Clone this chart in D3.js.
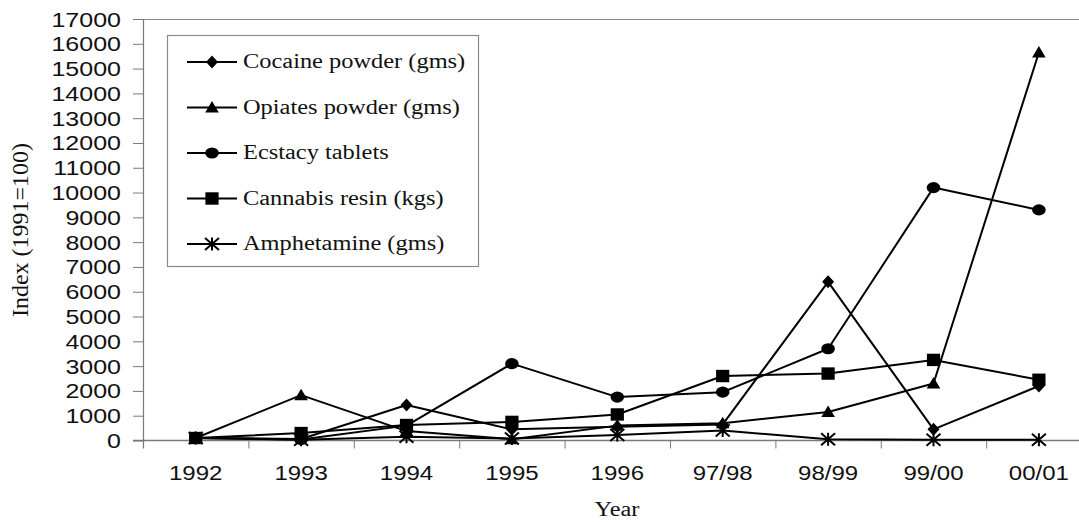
<!DOCTYPE html>
<html>
<head>
<meta charset="utf-8">
<script src="https://cdn.jsdelivr.net/npm/d3@7"></script>
<style>
  html, body { margin: 0; padding: 0; background: #fff; }
  svg { display: block; }
</style>
</head>
<body>
<svg id="chart" width="1079" height="522"></svg>
<script>
// ---- data ----
const categories = ["1992", "1993", "1994", "1995", "1996", "97/98", "98/99", "99/00", "00/01"];
const cocaine     = [100, 60, 1430, 450, 550, 650, 6400, 450, 2200];
const opiates     = [100, 1830, 380, 50, 600, 700, 1150, 2300, 15650];
const ecstasy     = [100, 40, 600, 3100, 1750, 1950, 3700, 10200, 9300];
const cannabis    = [100, 300, 625, 750, 1050, 2600, 2700, 3250, 2450];
const amphetamine = [100, 30, 150, 80, 220, 400, 50, 30, 30];
const seriesNames = ["Cocaine powder (gms)", "Opiates powder (gms)", "Ecstacy tablets", "Cannabis resin (kgs)", "Amphetamine (gms)"];
const seriesMarkers = ["diamond", "triangle", "circle", "square", "star"];
const yTicks = d3.range(0, 17001, 1000);

(function () {
const series = [cocaine, opiates, ecstasy, cannabis, amphetamine].map((vals, i) => ({
  name: seriesNames[i], marker: seriesMarkers[i], values: vals
}));

const svg = d3.select("#chart");
const W = 1079;
const pLeft = 143, pTop = 19, pBottom = 440.5;
const step = 105.4;

const x = d3.scaleBand().domain(categories).range([pLeft, pLeft + step * categories.length]).padding(0);
const y = d3.scaleLinear().domain([0, 17000]).range([pBottom, pTop]);
const cx = c => x(c) + x.bandwidth() / 2;

const SANS = "'Liberation Sans', Arial, sans-serif";
const SERIF = "'Liberation Serif', 'Times New Roman', serif";
const AXIS = "#7a7a7a";

function stretch(sel, k) {
  sel.each(function () {
    const w = this.getComputedTextLength();
    this.setAttribute("textLength", w * k);
    this.setAttribute("lengthAdjust", "spacingAndGlyphs");
  });
}

// top border of plot area
svg.append("line").attr("x1", pLeft).attr("x2", W).attr("y1", pTop + 0.5).attr("y2", pTop + 0.5)
  .attr("stroke", "#8c8c8c").attr("stroke-width", 1);

// y axis
const yAxis = svg.append("g").attr("transform", `translate(${pLeft},0)`)
  .call(d3.axisLeft(y).tickValues(yTicks).tickSize(10).tickPadding(12).tickFormat(d3.format("d")));
yAxis.select(".domain").remove();
yAxis.selectAll(".tick line").attr("stroke", AXIS);
yAxis.selectAll(".tick text").attr("font-family", SANS).attr("font-size", 20).attr("fill", "#111").attr("dy", "0.35em");
stretch(yAxis.selectAll(".tick text"), 1.25);
svg.append("line").attr("x1", pLeft + 0.5).attr("x2", pLeft + 0.5).attr("y1", pTop).attr("y2", pBottom + 8)
  .attr("stroke", AXIS).attr("stroke-width", 1.2);

// x axis
svg.append("line").attr("x1", pLeft - 10).attr("x2", W).attr("y1", pBottom).attr("y2", pBottom)
  .attr("stroke", AXIS).attr("stroke-width", 1.5);
svg.append("g").selectAll("line").data(categories.slice(1)).join("line")
  .attr("x1", d => x(d) + 0.5).attr("x2", d => x(d) + 0.5)
  .attr("y1", pBottom).attr("y2", pBottom + 8)
  .attr("stroke", AXIS).attr("stroke-width", 1);
const xl = svg.append("g").selectAll("text").data(categories).join("text")
  .attr("x", d => cx(d)).attr("y", 479.5)
  .attr("text-anchor", "middle").attr("font-family", SANS).attr("font-size", 20).attr("fill", "#111")
  .text(d => d);
stretch(xl, 1.2);

// axis titles
svg.append("text").attr("transform", "translate(28,230) rotate(-90)")
  .attr("text-anchor", "middle").attr("font-family", SERIF).attr("font-size", 24).attr("fill", "#111")
  .text("Index (1991=100)");
const yearT = svg.append("text").attr("x", 617).attr("y", 516)
  .attr("text-anchor", "middle").attr("font-family", SERIF).attr("font-size", 20).attr("fill", "#111")
  .text("Year");
stretch(yearT, 1.22);

// markers
function drawMarker(g, type, px, py) {
  const s = g.append("g").attr("transform", `translate(${px},${py})`);
  if (type === "diamond") {
    s.append("path").attr("d", "M0,-6.5L6,0L0,6.5L-6,0Z").attr("fill", "#000");
  } else if (type === "triangle") {
    s.append("path").attr("d", "M0,-6.5L6.8,5L-6.8,5Z").attr("fill", "#000");
  } else if (type === "circle") {
    s.append("ellipse").attr("rx", 6.8).attr("ry", 5.6).attr("fill", "#000");
  } else if (type === "square") {
    s.append("rect").attr("x", -6.6).attr("y", -6.2).attr("width", 13.2).attr("height", 12.4).attr("fill", "#000");
  } else if (type === "star") {
    s.append("path").attr("d", "M-7,-6L7,6M-7,6L7,-6M0,-6.5L0,6.5")
      .attr("stroke", "#000").attr("stroke-width", 2).attr("fill", "none");
  }
}

const line = d3.line().x((d, i) => cx(categories[i])).y(d => y(d));
const plot = svg.append("g");
series.forEach(s => {
  plot.append("path").attr("d", line(s.values)).attr("fill", "none")
    .attr("stroke", "#000").attr("stroke-width", 2).attr("stroke-linejoin", "round");
});
series.forEach(s => {
  s.values.forEach((v, i) => drawMarker(plot, s.marker, cx(categories[i]), y(v)));
});

// legend
const lg = svg.append("g");
lg.append("rect").attr("x", 167.5).attr("y", 35.5).attr("width", 311).attr("height", 231)
  .attr("fill", "#fff").attr("stroke", "#8a8a8a").attr("stroke-width", 1.2);
series.forEach((s, i) => {
  const ly = 62 + i * 45.5;
  lg.append("line").attr("x1", 187).attr("x2", 237).attr("y1", ly).attr("y2", ly)
    .attr("stroke", "#000").attr("stroke-width", 2);
  drawMarker(lg, s.marker, 212, ly);
  const t = lg.append("text").attr("x", 243).attr("y", ly + 6)
    .attr("font-family", SERIF).attr("font-size", 20).attr("fill", "#111").text(s.name);
  stretch(t, 1.22);
});
})();
</script>
</body>
</html>
